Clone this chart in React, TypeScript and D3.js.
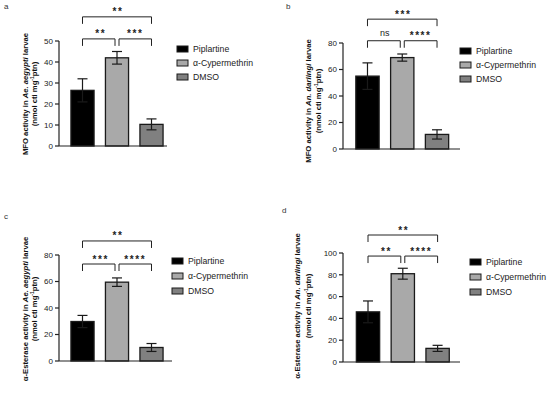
import React from "react";
import * as d3 from "d3";

const groups = ["Piplartine", "α-Cypermethrin", "DMSO"];
const colors = ["#000000", "#a9a9a9", "#808080"];

const meansA = [26.5, 42, 10.3];
const errsA = [5.5, 3, 2.6];
const meansB = [55, 69, 11];
const errsB = [10, 2.7, 3.5];
const meansC = [29.8, 59.5, 10.2];
const errsC = [4.6, 3.2, 3];
const meansD = [46, 81, 12.5];
const errsD = [10, 5, 2.8];

const ticksA = [0, 10, 20, 30, 40, 50];
const ticksB = [0, 20, 40, 60, 80];
const ticksC = [0, 20, 40, 60, 80];
const ticksD = [0, 20, 40, 60, 80, 100];

const sigA = ["**", "***", "**"];
const sigB = ["ns", "****", "***"];
const sigC = ["***", "****", "**"];
const sigD = ["**", "****", "**"];

// bracket levels in data units: [lower pair level, top level]
const bracketA = [51, 61.5];
const bracketB = [81.7, 98];
const bracketC = [73.2, 90.6];
const bracketD = [97.2, 116.5];

const FONT = "Liberation Sans, Arial, sans-serif";

type PanelProps = {
  letter: string;
  lx: number;
  ly: number;
  means: number[];
  errs: number[];
  ticks: number[];
  sig: string[];
  brackets: number[];
  axisX: number;
  y0: number;
  yTop: number;
  barRange: [number, number];
  xAxisEnd: number;
  label1: React.ReactNode;
  label2: React.ReactNode;
  labelX: [number, number];
  labelCY: number;
  legX: number;
  legY: number;
  legStep: number;
};

function SigText({ x, y, s }: { x: number; y: number; s: string }) {
  if (s === "ns") {
    return <text x={x} y={y - 4.5} textAnchor="middle" fontSize={9} fill="#222">{s}</text>;
  }
  return (
    <text x={x + 1} y={y - 1.5} textAnchor="middle" fontSize={10} fontWeight="bold" letterSpacing={1.6} fill="#222">{s}</text>
  );
}

function Panel(p: PanelProps) {
  const max = p.ticks[p.ticks.length - 1];
  const y = d3.scaleLinear().domain([0, max]).range([p.y0, p.yTop]);
  const x = d3.scaleBand<string>().domain(groups).range(p.barRange).paddingInner(0.33).paddingOuter(0.165);
  const cx = (g: string) => (x(g) as number) + x.bandwidth() / 2;
  const c0 = cx(groups[0]), c1 = cx(groups[1]), c2 = cx(groups[2]);
  const tickLen = 7;
  const bl = y(p.brackets[0]);
  const bt = y(p.brackets[1]);
  const bracket = (xa: number, xb: number, yy: number, key: string) => (
    <path key={key} d={`M${xa},${yy + tickLen}V${yy}H${xb}V${yy + tickLen}`} fill="none" stroke="#222" strokeWidth={1} />
  );
  return (
    <g fontFamily={FONT}>
      <text x={p.lx} y={p.ly} fontSize={8} fill="#333">{p.letter}</text>
      {groups.map((g, i) => (
        <rect key={g} x={x(g)} y={y(p.means[i])} width={x.bandwidth()} height={p.y0 - y(p.means[i])}
          fill={colors[i]} stroke="#1a1a1a" strokeWidth={1.3} />
      ))}
      {groups.map((g, i) => {
        const c = cx(g);
        const hi = y(p.means[i] + p.errs[i]);
        const lo = y(p.means[i] - p.errs[i]);
        return (
          <g key={g + "e"} stroke="#1a1a1a" strokeWidth={1.2}>
            <line x1={c} x2={c} y1={hi} y2={lo} />
            <line x1={c - 5} x2={c + 5} y1={hi} y2={hi} />
            <line x1={c - 5} x2={c + 5} y1={lo} y2={lo} />
          </g>
        );
      })}
      <line x1={p.axisX} x2={p.axisX} y1={p.y0} y2={y(max)} stroke="#222" strokeWidth={1.2} />
      <line x1={p.axisX} x2={p.xAxisEnd} y1={p.y0} y2={p.y0} stroke="#222" strokeWidth={1.2} />
      {p.ticks.map((t) => (
        <g key={t}>
          <line x1={p.axisX - 4} x2={p.axisX} y1={y(t)} y2={y(t)} stroke="#222" strokeWidth={1.2} />
          <text x={p.axisX - 6} y={y(t)} dy="0.35em" textAnchor="end" fontSize={8} fill="#222">{t}</text>
        </g>
      ))}
      {bracket(c0, c1 - 2, bl, "b1")}
      {bracket(c1 + 2, c2, bl, "b2")}
      {bracket(c0, c2, bt, "b3")}
      <SigText x={(c0 + c1) / 2} y={bl} s={p.sig[0]} />
      <SigText x={(c1 + c2) / 2} y={bl} s={p.sig[1]} />
      <SigText x={(c0 + c2) / 2} y={bt} s={p.sig[2]} />
      <text transform={`translate(${p.labelX[0]},${p.labelCY}) rotate(-90)`} textAnchor="middle" dy="0.35em"
        fontSize={7.7} fontWeight="bold" fill="#111">{p.label1}</text>
      <text transform={`translate(${p.labelX[1]},${p.labelCY}) rotate(-90)`} textAnchor="middle" dy="0.35em"
        fontSize={7.7} fontWeight="bold" fill="#111">{p.label2}</text>
      {groups.map((g, i) => (
        <g key={g + "l"}>
          <rect x={p.legX} y={p.legY + i * p.legStep - 3} width={11} height={6} fill={colors[i]} stroke="#1a1a1a" strokeWidth={1} />
          <text x={p.legX + 16} y={p.legY + i * p.legStep} dy="0.35em" fontSize={8.7} fill="#222">{g}</text>
        </g>
      ))}
    </g>
  );
}

const unitLabel = (
  <>
    (nmol cti mg<tspan dy="-3" fontSize={5}>-1</tspan><tspan dy="3">ptn)</tspan>
  </>
);

export default function App() {
  return (
    <svg width={550} height={396} style={{ position: "absolute", left: 0, top: 0, background: "#fff" }}>
      <rect width={550} height={396} fill="#fff" />
      <Panel letter="a" lx={4} ly={9} means={meansA} errs={errsA} ticks={ticksA} sig={sigA} brackets={bracketA}
        axisX={59} y0={146} yTop={41} barRange={[65.25, 168.75]} xAxisEnd={167}
        label1={<>MFO activity in <tspan fontStyle="italic">Ae. aegypti</tspan> larvae</>} label2={unitLabel}
        labelX={[25, 34]} labelCY={94} legX={177} legY={49} legStep={14} />
      <Panel letter="b" lx={286} ly={9} means={meansB} errs={errsB} ticks={ticksB} sig={sigB} brackets={bracketB}
        axisX={343} y0={149} yTop={43} barRange={[350.1, 454.4]} xAxisEnd={460}
        label1={<>MFO activity in <tspan fontStyle="italic">An. darlingi</tspan> larvae</>} label2={unitLabel}
        labelX={[308, 318]} labelCY={101} legX={460} legY={51} legStep={14} />
      <Panel letter="c" lx={4} ly={219} means={meansC} errs={errsC} ticks={ticksC} sig={sigC} brackets={bracketC}
        axisX={59} y0={361} yTop={255} barRange={[65.25, 168.75]} xAxisEnd={172}
        label1={<>α-Esterase activity in <tspan fontStyle="italic">Ae. aegypti</tspan> larvae</>} label2={unitLabel}
        labelX={[25, 34]} labelCY={309} legX={172} legY={261} legStep={15} />
      <Panel letter="d" lx={282} ly={213} means={meansD} errs={errsD} ticks={ticksD} sig={sigD} brackets={bracketD}
        axisX={343} y0={362} yTop={253} barRange={[350.6, 455]} xAxisEnd={460}
        label1={<>α-Esterase activity in <tspan fontStyle="italic">An. darlingi</tspan> larvae</>} label2={unitLabel}
        labelX={[297, 308]} labelCY={306} legX={470} legY={262} legStep={15} />
    </svg>
  );
}
